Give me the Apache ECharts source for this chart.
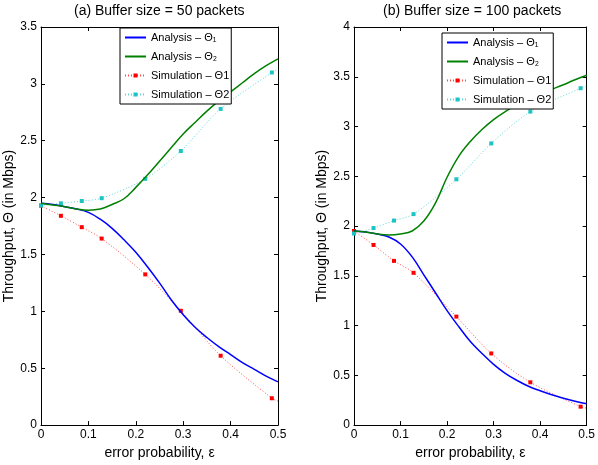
<!DOCTYPE html>
<html>
<head>
<meta charset="UTF-8">
<title>Throughput vs error probability</title>
<script src="https://cdn.jsdelivr.net/npm/echarts@6/dist/echarts.min.js"></script>
</head>
<body style="margin:0">
<div id="main" style="width:598px;height:465px"></div>
<script>
// x positions where the analysis curves were read
var eps = [0, 0.025, 0.05, 0.075, 0.1, 0.125, 0.15, 0.175, 0.2, 0.225, 0.25,
           0.275, 0.3, 0.325, 0.35, 0.375, 0.4, 0.425, 0.45, 0.475, 0.5];
// (a) buffer 50
var anaA1 = [1.95, 1.94, 1.92, 1.90, 1.87, 1.81, 1.73, 1.63, 1.52, 1.39, 1.25,
             1.10, 0.97, 0.86, 0.77, 0.69, 0.62, 0.55, 0.49, 0.43, 0.38];
var anaA2 = [1.95, 1.935, 1.92, 1.90, 1.89, 1.90, 1.94, 1.99, 2.09, 2.20, 2.32,
             2.44, 2.56, 2.66, 2.76, 2.85, 2.93, 3.01, 3.09, 3.16, 3.22];
// (b) buffer 100
var anaB1 = [1.95, 1.94, 1.92, 1.89, 1.82, 1.69, 1.51, 1.33, 1.15, 0.99, 0.84,
             0.72, 0.61, 0.52, 0.45, 0.39, 0.345, 0.305, 0.27, 0.24, 0.215];
var anaB2 = [1.95, 1.94, 1.92, 1.91, 1.92, 1.95, 2.05, 2.23, 2.49, 2.70, 2.85,
             2.97, 3.07, 3.15, 3.22, 3.28, 3.33, 3.375, 3.42, 3.47, 3.515];

// simulation points (last one has no marker, the dotted curve just runs to the edge)
var simEps = [0, 0.042, 0.086, 0.128, 0.22, 0.295, 0.379, 0.487, 0.5];
var simA1 = [1.93, 1.84, 1.74, 1.64, 1.325, 1.005, 0.61, 0.236, 0.21];
var simA2 = [1.93, 1.95, 1.97, 1.995, 2.165, 2.41, 2.78, 3.10, 3.13];
var simB1 = [1.95, 1.81, 1.65, 1.53, 1.09, 0.72, 0.43, 0.185, 0.17];
var simB2 = [1.925, 1.98, 2.055, 2.12, 2.47, 2.83, 3.15, 3.385, 3.41];

var names = ['Analysis – Θ₁', 'Analysis – Θ₂', 'Simulation – Θ1', 'Simulation – Θ2'];
var titles = ['(a) Buffer size = 50 packets', '(b) Buffer size = 100 packets'];
var yMax = [3.5, 4];

var font = 'Liberation Sans, Arial, Helvetica, sans-serif';

function pairs(xs, ys) {
    return xs.map(function (x, i) { return [x, ys[i]]; });
}
function simPairs(xs, ys) {
    return xs.map(function (x, i) {
        var item = { value: [x, ys[i]] };
        if (i === xs.length - 1) item.symbol = 'none';
        return item;
    });
}

var xAxes = [], yAxes = [], series = [];
[0, 1].forEach(function (g) {
    // bottom + top (frame)
    xAxes.push({
        type: 'value', gridIndex: g, min: 0, max: 0.5, interval: 0.1,
        name: 'error probability, ε', nameLocation: 'middle', nameGap: 15,
        nameTextStyle: { fontFamily: font, fontSize: 14, color: '#000' },
        axisLine: { onZero: false, lineStyle: { color: '#000', width: 1 } },
        axisTick: { inside: true, length: 4, lineStyle: { color: '#000' } },
        axisLabel: { fontFamily: font, fontSize: 12, color: '#000', margin: 4 },
        splitLine: { show: false }
    });
    xAxes.push({
        type: 'value', gridIndex: g, position: 'top', min: 0, max: 0.5, interval: 0.1,
        axisLine: { onZero: false, lineStyle: { color: '#000', width: 1 } },
        axisTick: { inside: true, length: 4, lineStyle: { color: '#000' } },
        axisLabel: { show: false }, splitLine: { show: false }
    });
    yAxes.push({
        type: 'value', gridIndex: g, min: 0, max: yMax[g], interval: 0.5,
        name: 'Throughput, Θ (in Mbps)', nameLocation: 'middle', nameGap: 24,
        nameTextStyle: { fontFamily: font, fontSize: 14, color: '#000' },
        axisLine: { show: true, onZero: false, lineStyle: { color: '#000', width: 1 } },
        axisTick: { show: true, inside: true, length: 4, lineStyle: { color: '#000' } },
        axisLabel: { fontFamily: font, fontSize: 12, color: '#000', margin: 4 },
        splitLine: { show: false }
    });
    yAxes.push({
        type: 'value', gridIndex: g, position: 'right', min: 0, max: yMax[g], interval: 0.5,
        axisLine: { show: true, onZero: false, lineStyle: { color: '#000', width: 1 } },
        axisTick: { show: true, inside: true, length: 4, lineStyle: { color: '#000' } },
        axisLabel: { show: false }, splitLine: { show: false }
    });
});

var sets = [
    [anaA1, anaA2, simA1, simA2],
    [anaB1, anaB2, simB1, simB2]
];
var colors = ['#0000ff', '#008000', '#ff0000', '#1cc4c4'];

[0, 1].forEach(function (g) {
    var s = sets[g];
    [0, 1].forEach(function (k) {
        series.push({
            name: names[k], type: 'line', xAxisIndex: g * 2, yAxisIndex: g * 2,
            data: pairs(eps, s[k]), smooth: 0.4, showSymbol: false, symbol: 'none',
            lineStyle: { color: colors[k], width: 1.5 }, itemStyle: { color: colors[k] },
            z: 3
        });
    });
    [2, 3].forEach(function (k) {
        series.push({
            name: names[k], type: 'line', xAxisIndex: g * 2, yAxisIndex: g * 2,
            data: simPairs(simEps, s[k]), smooth: 0.3, symbol: 'rect', symbolSize: 4,
            lineStyle: { color: colors[k], width: 1, type: [1, 2], opacity: 0.7 },
            itemStyle: { color: colors[k] },
            z: 2
        });
    });
});

// analysis entries: line only, no marker
var legendData = names.map(function (n, i) {
    return i < 2 ? { name: n, itemStyle: { opacity: 0 } } : { name: n };
});

var legendBase = {
    orient: 'vertical', data: legendData,
    backgroundColor: '#fff', borderColor: '#000', borderWidth: 1, borderRadius: 0,
    padding: [3, 2, 3, 4], itemWidth: 21, itemHeight: 5, itemGap: 6,
    textStyle: { fontFamily: font, fontSize: 11, color: '#000', lineHeight: 13 }
};

var chart = echarts.init(document.getElementById('main'));
chart.setOption({
    animation: false,
    backgroundColor: '#fff',
    title: [
        { text: titles[0], left: 74, top: 4, padding: 0,
          textStyle: { fontFamily: font, fontSize: 14, fontWeight: 'normal', color: '#000' } },
        { text: titles[1], left: 383, top: 4, padding: 0,
          textStyle: { fontFamily: font, fontSize: 14, fontWeight: 'normal', color: '#000' } }
    ],
    legend: [
        Object.assign({}, legendBase, { left: 120, top: 28 }),
        Object.assign({}, legendBase, { left: 442, top: 33 })
    ],
    grid: [
        { left: 41, right: 320, top: 27, bottom: 28 },
        { left: 354, right: 7, top: 27, bottom: 28 }
    ],
    xAxis: xAxes,
    yAxis: yAxes,
    series: series
});
</script>
</body>
</html>
